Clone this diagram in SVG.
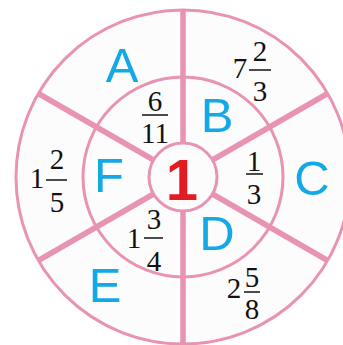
<svg xmlns="http://www.w3.org/2000/svg" width="343" height="345" viewBox="0 0 343 345">
<style>
.ring{fill:none;stroke:#e893b4;stroke-width:3}
.spoke{stroke:#e893b4;stroke-width:5.5;stroke-linecap:butt}
.lbl{font-family:"Liberation Sans",Arial,sans-serif;font-size:49px;fill:#13a8e6;text-anchor:middle}
.num{font-family:"Liberation Serif","Times New Roman",serif;font-size:29px;fill:#111;text-anchor:middle}
.bar{stroke:#111;stroke-width:1.5}
</style>
<rect width="343" height="345" fill="#ffffff"/>
<circle cx="183" cy="177" r="167" fill="#fcfcfc"/>
<g id="connectors">
<line class="spoke" x1="183" y1="10" x2="183" y2="143"/>
<line class="spoke" x1="183" y1="211" x2="183" y2="345"/>
<line class="spoke" x1="327.6" y1="93.5" x2="212.4" y2="160"/>
<line class="spoke" x1="38.4" y1="93.5" x2="153.6" y2="160"/>
<line class="spoke" x1="327.6" y1="260.5" x2="212.4" y2="194"/>
<line class="spoke" x1="38.4" y1="260.5" x2="153.6" y2="194"/>
<circle class="ring" cx="183" cy="177" r="167"/>
<circle class="ring" cx="183" cy="177" r="100"/>
<circle class="ring" cx="183" cy="177" r="34" fill="#fcfcfc"/>
</g>
<g id="center"><text x="182" y="200" font-family="Liberation Sans,Arial,sans-serif" font-weight="bold" font-size="58" fill="#e31b23" text-anchor="middle">1</text></g>
<g id="A"><text class="lbl" x="122" y="82">A</text></g>
<g id="B"><text class="lbl" x="217" y="132">B</text></g>
<g id="C"><text class="lbl" x="312" y="195">C</text></g>
<g id="D"><text class="lbl" x="217" y="250">D</text></g>
<g id="E"><text class="lbl" x="105" y="302">E</text></g>
<g id="F"><text class="lbl" x="109" y="192">F</text></g>
<g id="frac-6-11">
<text class="num" x="155" y="111">6</text>
<line class="bar" x1="142" y1="115" x2="168" y2="115"/>
<text class="num" x="155" y="143">11</text>
</g>
<g id="frac-7-2-3">
<text class="num" x="240" y="78">7</text>
<text class="num" x="260" y="61">2</text>
<line class="bar" x1="249" y1="70" x2="271" y2="70"/>
<text class="num" x="260" y="101">3</text>
</g>
<g id="frac-1-3">
<text class="num" x="254" y="171">1</text>
<line class="bar" x1="246" y1="174" x2="263" y2="174"/>
<text class="num" x="254" y="204">3</text>
</g>
<g id="frac-1-2-5">
<text class="num" x="37" y="188">1</text>
<text class="num" x="57" y="169">2</text>
<line class="bar" x1="46" y1="180" x2="67" y2="180"/>
<text class="num" x="57" y="212">5</text>
</g>
<g id="frac-1-3-4">
<text class="num" x="134" y="248">1</text>
<text class="num" x="154" y="229">3</text>
<line class="bar" x1="144" y1="238" x2="163" y2="238"/>
<text class="num" x="154" y="271">4</text>
</g>
<g id="frac-2-5-8">
<text class="num" x="234" y="298">2</text>
<text class="num" x="252" y="287">5</text>
<line class="bar" x1="244" y1="292" x2="260" y2="292"/>
<text class="num" x="252" y="319">8</text>
</g>
</svg>
